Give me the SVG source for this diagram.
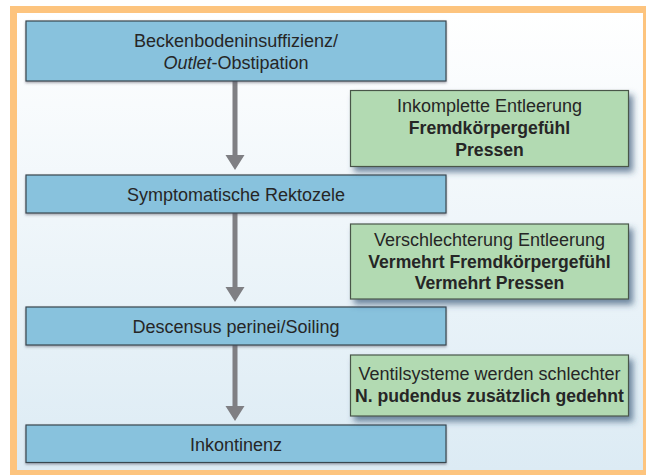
<svg xmlns="http://www.w3.org/2000/svg" width="648" height="475" viewBox="0 0 648 475">
<defs>
<linearGradient id="bg" x1="0" y1="0" x2="0" y2="1">
<stop offset="0" stop-color="#ffffff"/>
<stop offset="1" stop-color="#dcebf4"/>
</linearGradient>
<filter id="gshadow" x="-10%" y="-20%" width="130%" height="160%">
<feDropShadow dx="4" dy="5" stdDeviation="3" flood-color="#2c4d6e" flood-opacity="0.65"/>
</filter>
<filter id="bshadow" x="-5%" y="-10%" width="110%" height="130%">
<feDropShadow dx="0" dy="1.5" stdDeviation="0.8" flood-color="#556" flood-opacity="0.5"/>
</filter>
<style>
.blue{fill:#88c2dd;stroke:#39474f;stroke-width:1.2}
.green{fill:#b2dab2;stroke:#4a574a;stroke-width:1.2}
.t{font-family:"Liberation Sans","DejaVu Sans",sans-serif;font-size:18px;fill:#262626;text-anchor:middle}
.b{font-weight:bold;font-size:17.6px}
.arrow{fill:#7f7f83}
</style>
</defs>
<rect x="10" y="6" width="636" height="469" fill="#fdc47e"/>
<rect x="17" y="13" width="626" height="457" fill="url(#bg)"/>
<g id="connectors">
<path class="arrow" d="M232.5,81 h5 v74 h7 l-9.5,15 l-9.5,-15 h7 z"/>
<path class="arrow" d="M232.5,213 h5 v74 h7 l-9.5,15 l-9.5,-15 h7 z"/>
<path class="arrow" d="M232.5,345 h5 v61 h7 l-9.5,15 l-9.5,-15 h7 z"/>
</g>
<g id="node-beckenboden">
<rect class="blue" x="26" y="21" width="420" height="60" filter="url(#bshadow)"/>
<text class="t" x="236" y="47">Beckenbodeninsuffizienz/</text>
<text class="t" x="236" y="68.5"><tspan font-style="italic">Outlet</tspan>-Obstipation</text>
</g>
<g id="node-rektozele">
<rect class="blue" x="26" y="175" width="420" height="38" filter="url(#bshadow)"/>
<text class="t" x="236" y="200.5">Symptomatische Rektozele</text>
</g>
<g id="node-descensus">
<rect class="blue" x="26" y="307" width="420" height="38" filter="url(#bshadow)"/>
<text class="t" x="236" y="333">Descensus perinei/Soiling</text>
</g>
<g id="node-inkontinenz">
<rect class="blue" x="26" y="425" width="420" height="37.5" filter="url(#bshadow)"/>
<text class="t" x="236" y="451">Inkontinenz</text>
</g>
<g id="note-1">
<rect class="green" x="350.5" y="90.5" width="278" height="76" filter="url(#gshadow)"/>
<text class="t" x="489.5" y="112">Inkomplette Entleerung</text>
<text class="t b" x="489.5" y="133.5">Fremdkörpergefühl</text>
<text class="t b" x="489.5" y="155.5">Pressen</text>
</g>
<g id="note-2">
<rect class="green" x="350.5" y="224" width="278" height="75" filter="url(#gshadow)"/>
<text class="t" x="489.5" y="246">Verschlechterung Entleerung</text>
<text class="t b" x="489.5" y="267.5">Vermehrt Fremdkörpergefühl</text>
<text class="t b" x="489.5" y="289">Vermehrt Pressen</text>
</g>
<g id="note-3">
<rect class="green" x="350.5" y="355" width="278" height="61" filter="url(#gshadow)"/>
<text class="t" x="489.5" y="380">Ventilsysteme werden schlechter</text>
<text class="t b" x="489.5" y="401.5">N. pudendus zusätzlich gedehnt</text>
</g>
</svg>
